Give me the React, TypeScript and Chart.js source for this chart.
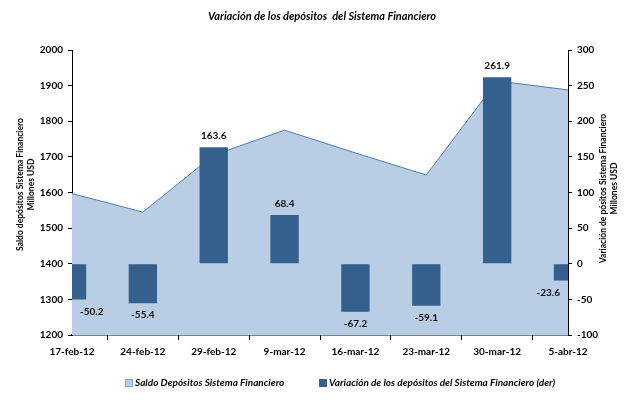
import React, { useEffect, useRef } from "react";
import { Chart, registerables } from "chart.js";

Chart.register(...registerables);

const categories = ["17-feb-12", "24-feb-12", "29-feb-12", "9-mar-12", "16-mar-12", "23-mar-12", "30-mar-12", "5-abr-12"];
const saldo = [1597, 1545, 1705, 1775, 1711, 1649, 1913, 1888];
const variacion = [-50.2, -55.4, 163.6, 68.4, -67.2, -59.1, 261.9, -23.6];
const leftTicks = [1200, 2000, 100];
const rightTicks = [-100, 300, 50];

const titleText = "Variación de los depósitos  del Sistema Financiero";
const leftTitle = ["Saldo depósitos Sistema Financiero", "Millones USD"];
const rightTitle = ["Variación de pósitos Sistema Financiero", "Millones USD"];
const legendLabels = ["Saldo Depósitos Sistema Financiero", "Variación de los depósitos del Sistema Financiero (der)"];

const AREA_FILL = "#b9cde5";
const AREA_LINE = "#4f7db4";
const BAR = "#355f8d";
const FONT = "Lato, 'Open Sans', sans-serif";

const decor = {
  id: "decor",
  afterDatasetsDraw(chart: any) {
    const ctx = chart.ctx;
    const area = chart.chartArea;
    const meta = chart.getDatasetMeta(0);
    ctx.save();
    ctx.fillStyle = "#111";
    ctx.font = `bold 10px ${FONT}`;
    ctx.textAlign = "center";
    ctx.textBaseline = "middle";
    meta.data.forEach((el: any, i: number) => {
      const v = variacion[i];
      const txt = v.toFixed(1);
      const w = ctx.measureText(txt).width;
      let x = el.x;
      x = Math.max(x, area.left + w / 2 + 8);
      x = Math.min(x, area.right - w / 2 - 8);
      const y = v >= 0 ? el.y - 11 : el.y + 12;
      ctx.fillText(txt, x, y);
    });
    ctx.restore();
  },
  afterDraw(chart: any) {
    const ctx = chart.ctx;
    const area = chart.chartArea;
    const cy = (area.top + area.bottom) / 2;
    ctx.save();
    ctx.fillStyle = "#000";
    ctx.textAlign = "center";
    ctx.textBaseline = "middle";
    ctx.font = `italic bold 11px ${FONT}`;
    ctx.fillText(titleText, 322, 16);

    ctx.font = `bold 8.5px ${FONT}`;
    ctx.save();
    ctx.translate(20, cy - 8);
    ctx.rotate(-Math.PI / 2);
    ctx.fillText(leftTitle[0], 0, 0);
    ctx.fillText(leftTitle[1], 0, 11);
    ctx.restore();

    ctx.save();
    ctx.translate(603, cy - 4);
    ctx.rotate(-Math.PI / 2);
    ctx.fillText(rightTitle[0], 0, 0);
    ctx.fillText(rightTitle[1], 0, 11);
    ctx.restore();

    // legend
    ctx.font = `italic bold 10px ${FONT}`;
    ctx.textAlign = "left";
    const ly = 383;
    const items = [
      { x: 125, fill: AREA_FILL, stroke: "#8ea9cc", label: legendLabels[0] },
      { x: 319, fill: BAR, stroke: BAR, label: legendLabels[1] },
    ];
    items.forEach((it) => {
      ctx.fillStyle = it.fill;
      ctx.fillRect(it.x, ly - 3.5, 7, 7);
      ctx.strokeStyle = it.stroke;
      ctx.lineWidth = 1;
      ctx.strokeRect(it.x + 0.5, ly - 3.5, 7, 7);
      ctx.fillStyle = "#000";
      ctx.fillText(it.label, it.x + 10, ly);
    });
    ctx.restore();
  },
};

export default function App() {
  const ref = useRef<HTMLCanvasElement>(null);
  useEffect(() => {
    document.body.style.margin = "0";
    const tickFont = { family: FONT, size: 10, weight: "bold" };
    const chart = new Chart(ref.current!, {
      type: "bar",
      data: {
        labels: categories,
        datasets: [
          {
            type: "bar",
            label: legendLabels[1],
            data: variacion,
            yAxisID: "y1",
            backgroundColor: BAR,
            borderWidth: 0,
            barPercentage: 0.4,
            categoryPercentage: 1,
            clip: 0,
            order: 0,
          } as any,
          {
            type: "line",
            label: legendLabels[0],
            data: saldo,
            yAxisID: "y",
            backgroundColor: AREA_FILL,
            borderColor: AREA_LINE,
            borderWidth: 1,
            pointRadius: 0,
            tension: 0,
            fill: "start",
            order: 1,
          } as any,
        ],
      },
      options: {
        animation: false,
        responsive: false,
        maintainAspectRatio: false,
        layout: { padding: { top: 50, left: 0, right: 0, bottom: 0 } },
        plugins: { legend: { display: false }, title: { display: false }, tooltip: { enabled: false } },
        scales: {
          x: {
            offset: false,
            grid: { drawOnChartArea: false, drawTicks: true, tickLength: 5, color: "#000" },
            border: { display: true, color: "#000", width: 1.5 },
            ticks: { color: "#000", font: tickFont, padding: 6, maxRotation: 0, autoSkip: false },
            afterFit: (s: any) => { s.height = 65; },
          },
          y: {
            position: "left",
            min: leftTicks[0],
            max: leftTicks[1],
            ticks: { stepSize: leftTicks[2], color: "#000", font: tickFont, padding: 5, callback: (v: any) => String(v) },
            grid: { drawOnChartArea: false, drawTicks: true, tickLength: 4, color: "#000" },
            border: { display: true, color: "#000", width: 1 },
            afterFit: (s: any) => { s.width = 72; },
          },
          y1: {
            position: "right",
            min: rightTicks[0],
            max: rightTicks[1],
            ticks: { stepSize: rightTicks[2], color: "#000", font: tickFont, padding: 5, callback: (v: any) => String(v) },
            grid: { drawOnChartArea: false, drawTicks: true, tickLength: 4, color: "#000" },
            border: { display: true, color: "#000", width: 1 },
            afterFit: (s: any) => { s.width = 62; },
          },
        },
      } as any,
      plugins: [decor],
    });
    return () => chart.destroy();
  }, []);
  return <canvas ref={ref} width={630} height={400} style={{ display: "block" }} />;
}
